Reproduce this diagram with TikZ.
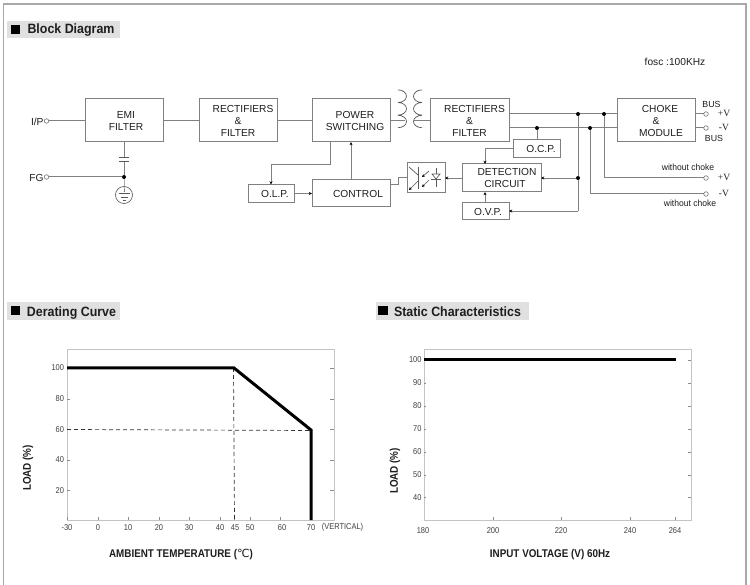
\documentclass[tikz,border=0pt]{standalone}
\usepackage{fontspec}
\setmainfont{Liberation Sans}
\newfontfamily\dejafont{DejaVu Sans}
\newfontfamily\serifv{Liberation Serif}
\usetikzlibrary{arrows.meta}
\definecolor{lnc}{HTML}{808080}
\definecolor{frm}{HTML}{A8A8A8}
\definecolor{hdr}{HTML}{E0E0E0}
\definecolor{axc}{HTML}{C4C4C4}
\definecolor{txc}{HTML}{1E1E1E}
\newcommand{\sft}[1]{\hspace*{#1pt}}
\tikzset{
  x=1pt,y=-1pt,
  every node/.style={text=txc,font=\fontsize{10.2}{12}\selectfont,inner sep=0pt,outer sep=0pt},
  blk/.style={draw=lnc,line width=1pt,fill=white,align=center},
  wire/.style={draw=lnc,line width=1pt},
  awire/.style={draw=lnc,line width=.8pt,-{Stealth[length=3.2pt,width=3pt,color=black]}},
  jdot/.style={circle,fill=black,minimum size=4pt},
  term/.style={circle,draw=lnc,line width=.7pt,fill=white,minimum size=4.5pt},
  small/.style={font=\fontsize{9}{10}\selectfont\addfontfeatures{FakeStretch=.95}},
  busl/.style={font=\fontsize{8.8}{10}\selectfont},
  vlab/.style={font=\serifv\fontsize{9.5}{10}\selectfont},
  tick/.style={font=\fontsize{8.5}{9}\selectfont\addfontfeatures{FakeStretch=.88},text=black!75},
  axl/.style={font=\bfseries\fontsize{11.2}{13}\selectfont\addfontfeatures{FakeStretch=.88}},
  head/.style={fill=hdr,draw=none},
  headt/.style={font=\bfseries\fontsize{13.5}{15}\selectfont\addfontfeatures{FakeStretch=.92},anchor=west},
  plot/.style={draw=axc,line width=.9pt,fill=white},
  thk/.style={line width=3pt,draw=black,line join=miter},
  dsh/.style={draw=black!80,line width=.7pt,dash pattern=on 4pt off 3pt},
  tk/.style={draw=black!45,line width=.6pt},
  sym/.style={draw=black!65,line width=.7pt},
}
\begin{document}
\begin{tikzpicture}
\useasboundingbox (0,0) rectangle (750,585);
\fill[white] (0,0) rectangle (750,585);
% frame
\draw[frm,line width=1.6pt] (3.5,585) -- (3.5,4) -- (746,4) -- (746,585);
% section headers
\fill[head] (7,21) rectangle (120,38);
\fill[black] (11,25) rectangle (20,34);
\node[headt] (h1) at (27.5,30.5) {Block Diagram};
\fill[head] (7,302) rectangle (120,320);
\fill[black] (11,306) rectangle (20,315);
\node[headt] (h2) at (27,313) {Derating Curve};
\fill[head] (376,302) rectangle (529,320);
\fill[black] (378,306) rectangle (388,315);
\node[headt] (h3) at (394,311.5) {Static Characteristics};
\node (fosc) at (675,62) {fosc :100KHz};
% blocks
\node[blk,minimum width=78pt,minimum height=43pt] (emi) at (124,120.5) {\sft{4}EMI\\\sft{4}FILTER};
\node[blk,minimum width=78pt,minimum height=43pt] (rec1) at (238,120.5) {\sft{10}RECTIFIERS\\\&\\FILTER};
\node[blk,minimum width=78pt,minimum height=43pt] (pow) at (351,120.5) {\sft{8}POWER\\\sft{8}SWITCHING};
\node[blk,minimum width=79pt,minimum height=43pt] (rec2) at (469.5,120.5) {\sft{10}RECTIFIERS\\\&\\FILTER};
\node[blk,minimum width=78pt,minimum height=43pt] (chk) at (656,120.5) {\sft{8}CHOKE\\\&\\\sft{10}MODULE};
\node[blk,minimum width=46pt,minimum height=18pt] (olp) at (271,193.5) {\sft{8}O.L.P.};
\node[blk,minimum width=78pt,minimum height=27pt] (ctl) at (351,193.5) {\sft{14}CONTROL};
\node[blk,minimum width=47pt,minimum height=18pt] (ocp) at (536.5,149) {\sft{9}O.C.P.};
\node[blk,minimum width=79pt,minimum height=28pt] (det) at (501.5,178) {\sft{11}DETECTION\\\sft{7}CIRCUIT};
\node[blk,minimum width=47pt,minimum height=17pt] (ovp) at (485.5,211.5) {\sft{5}O.V.P.};
\node[blk,minimum width=38pt,minimum height=30pt] (opto) at (426,178) {};
% terminals and labels
\node[term] (ip) at (46.5,121) {};
\node[term] (fg) at (46.5,177) {};
\node[anchor=east] (ipl) at (43.5,121.5) {I/P};
\node[anchor=east] (fgl) at (43.5,177.5) {FG};
\node[term] (t1) at (706,114) {};
\node[term] (t2) at (706,128) {};
\node[term] (t3) at (706,178) {};
\node[term] (t4) at (706,194) {};
\node[busl] (b1) at (711.5,104.5) {BUS};
\node[busl] (b2) at (714,138) {BUS};
\node[small] (wc1) at (688,167) {without choke};
\node[small] (wc2) at (690,203) {without choke};
\node[vlab] (v1) at (724,113) {+V};
\node[vlab] (v2) at (724,127) {-V};
\node[vlab] (v3) at (724,177) {+V};
\node[vlab] (v4) at (724,193) {-V};
% junctions
\node[jdot] (j0) at (124,177) {};
\node[jdot] (j1) at (578,114) {};
\node[jdot] (j2) at (604,114) {};
\node[jdot] (j3) at (537,128) {};
\node[jdot] (j4) at (590,128) {};
\node[jdot] (j5) at (578,178) {};
% capacitor and earth
\coordinate (c1) at (124,157);
\coordinate (c2) at (124,161);
\node[circle,draw=black!60,line width=.7pt,minimum size=17pt] (gnd) at (124,195) {};
\path[wire] (ip) -- (emi.west |- ip);
\path[wire] (emi) -- (rec1);
\path[wire] (rec1) -- (pow);
\path[wire] (fg) -- (j0);
\path[wire] (emi.south) -- (c1);
\path[wire] (c2) -- (j0);
\path[wire] (j0) -- (gnd.north) -- (124,192);
\draw[sym] (119,157) -- (129,157) (119,161) -- (129,161);
\draw[sym,line width=.9pt] (118.5,193.5) -- (129.5,193.5);
\draw[sym] (120.5,197.5) -- (127.5,197.5) (122.5,200.5) -- (125.5,200.5);
% feedback
\coordinate (k1) at (330,165);
\coordinate (k2) at (271,165);
\path[wire] (pow.south -| k1) -- (k1) -- (k2);
\path[awire] (k2) -- (olp.north);
\path[awire] (olp) -- (ctl);
\path[awire,line width=1pt] (ctl.north) -- (pow.south);
% transformer
\coordinate (tl) at (405,121);
\coordinate (tr) at (414,121);
\path[wire] (pow.east |- tl) -- (tl);
\path[wire] (tr) -- (rec2.west |- tr);
\draw[sym] (398,102.5) arc[start angle=90,end angle=-90,x radius=8.5,y radius=6.3]
           (398,115.1) arc[start angle=90,end angle=-90,x radius=8.5,y radius=6.3]
           (398,127.7) arc[start angle=90,end angle=-90,x radius=8.5,y radius=6.2]
           (422,102.5) arc[start angle=90,end angle=270,x radius=8.5,y radius=6.3]
           (422,115.1) arc[start angle=90,end angle=270,x radius=8.5,y radius=6.3]
           (422,127.7) arc[start angle=90,end angle=270,x radius=8.5,y radius=6.2];
% outputs
\path[wire] (rec2.east |- j1) -- (j1) -- (j2) -- (chk.west |- j2);
\path[wire] (rec2.east |- j3) -- (j3) -- (j4) -- (chk.west |- j4);
\path[wire] (chk.east |- t1) -- (t1);
\path[wire] (chk.east |- t2) -- (t2);
\path[wire] (j2) -- (j2 |- t3) -- (t3);
\path[wire] (j4) -- (j4 |- t4) -- (t4);
\path[wire] (j1) -- (j5);
% sensing
\path[wire] (j3) -- (ocp.north -| j3);
\coordinate (k3) at (485,149);
\path[wire] (ocp.west) -- (k3);
\path[awire] (k3) -- (k3 |- det.north);
\path[awire] (j5) -- (det.east |- j5);
\coordinate (k4) at (578,211);
\path[wire] (j5) -- (k4);
\path[awire] (k4) -- (ovp.east |- k4);
\path[awire] (ovp.north -| k3) -- (det.south -| k3);
\path[awire] (det.west) -- (opto.east);
\coordinate (k5) at (398,185);
\coordinate (k6) at (398,178);
\path[wire] (ctl.east |- k5) -- (k5) -- (k6) -- (opto.west);
% optocoupler
\draw[sym] (418,167) -- (418,189);
\draw[sym] (409,167) -- (418,175);
\draw[sym,-{Stealth[length=3pt,width=3pt,color=black]}] (418,181) -- (409,190);
\draw[sym,-{Stealth[length=3pt,width=3pt,color=black]}] (429,171) -- (422,177);
\draw[sym,-{Stealth[length=3pt,width=3pt,color=black]}] (429,180) -- (422,187);
\draw[sym] (436,168) -- (436,174) (436,179) -- (436,187);
\draw[sym] (432,174) -- (440,174) -- (436,179) -- cycle;
\draw[sym] (431,179) -- (441,179);
% derating curve
\draw[plot] (67,349) rectangle (334,520);
\foreach \yy/\lab in {368/100,399/80,429.5/60,460/40,490.5/20}{
  \node[tick,anchor=east] at (64,\yy) {\lab};
  \draw[tk] (67,\yy) -- (69.5,\yy) (334,\yy) -- (330,\yy);
}
\foreach \xx/\lab in {67/-30,98/0,128/10,159/20,189/30,220/40,235/45,250/50,282/60,311/70}{
  \node[tick] at (\xx,527.5) {\lab};
}
\foreach \xx in {67,98,128,159,189,220,234.5,250,280.5,311}{
  \draw[tk] (\xx,520) -- (\xx,517);
}
\node[tick] at (342.5,527.5) {(VERTICAL)};
\draw[dsh] (67,429.5) -- (311,430.5);
\draw[dsh] (233.5,368) -- (234.5,520);
\draw[thk] (67,368) -- (234,368) -- (311,430) -- (311,520);
\node[axl,rotate=90] at (28,468) {LOAD (\%)};
\node[axl] at (181,555) {AMBIENT TEMPERATURE ({\dejafont\mdseries ℃})};
% static characteristics
\draw[plot] (424,349) rectangle (691,520);
\foreach \yy/\lab in {360/100,383/90,406/80,429/70,452/60,475/50,497.5/40}{
  \node[tick,anchor=east] at (421.5,\yy) {\lab};
  \draw[tk] (424,\yy) -- (426,\yy) (691,\yy) -- (687.5,\yy);
}
\foreach \xx/\lab in {423/180,493/200,561/220,630/240,675/264}{
  \node[tick] at (\xx,531) {\lab};
}
\foreach \xx in {493,561,630,675}{\draw[tk] (\xx,520) -- (\xx,517);}
\draw[thk] (424,360) -- (676,360);
\node[axl,rotate=90] at (395,471) {LOAD (\%)};
\node[axl] at (550,555) {INPUT VOLTAGE (V) 60Hz};
\end{tikzpicture}
\end{document}
